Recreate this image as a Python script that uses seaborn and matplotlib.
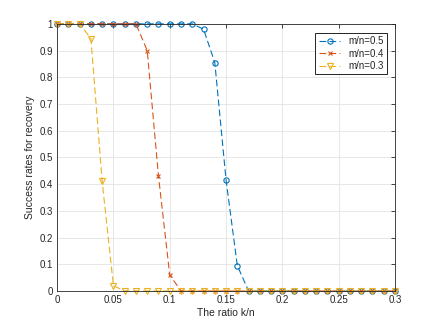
import matplotlib
matplotlib.use("Agg")
import matplotlib.pyplot as plt
import seaborn as sns
import numpy as np
import pandas as pd

# k/n ratio from 0 to 0.3
ratio = [round(0.01 * i, 2) for i in range(31)]

rate_05 = [1, 1, 1, 1, 1, 1, 1, 1, 1, 1, 1, 1, 1, 0.98, 0.855, 0.415, 0.095] + [0] * 14
rate_04 = [1, 1, 1, 1, 1, 1, 1, 1, 0.9, 0.43, 0.06] + [0] * 20
rate_03 = [1, 1, 1, 0.945, 0.41, 0.02] + [0] * 25

labels = ["m/n=0.5", "m/n=0.4", "m/n=0.3"]
colors = ["#0072BD", "#D95319", "#EDB120"]
markers = ["o", "x", "v"]
msizes = [3.8, 3.2, 3.8]

sns.set_style("white")
plt.rcParams['font.family'] = ['Liberation Sans', 'DejaVu Sans']

fig = plt.figure(figsize=(4.36, 3.27), dpi=100)
ax = fig.add_axes([0.131, 0.11, 0.775, 0.817])

for vals, lab, col, mk, ms in zip([rate_05, rate_04, rate_03], labels, colors, markers, msizes):
    df = pd.DataFrame({"ratio": ratio, "rate": vals})
    sns.lineplot(data=df, x="ratio", y="rate", ax=ax, color=col, label=lab,
                 marker=mk, markersize=ms, markerfacecolor="none",
                 markeredgecolor=col, markeredgewidth=0.8,
                 linestyle=(0, (6, 3)), linewidth=0.8, clip_on=False)

ax.set_xlim(0, 0.3)
ax.set_ylim(0, 1)
ax.set_xticks(np.arange(0, 0.31, 0.05))
ax.set_xticklabels(["0", "0.05", "0.1", "0.15", "0.2", "0.25", "0.3"])
ax.set_yticks(np.arange(0, 1.01, 0.1))
ax.set_yticklabels(["0", "0.1", "0.2", "0.3", "0.4", "0.5", "0.6", "0.7", "0.8", "0.9", "1"])
ax.grid(True, color="#e3e3e3", linewidth=0.6)
ax.set_axisbelow(True)
ax.tick_params(direction="in", length=3, width=0.6, labelsize=7, colors="#262626",
               top=True, right=True, pad=3)
for s in ax.spines.values():
    s.set_color("#262626")
    s.set_linewidth(0.6)
ax.set_xlabel("The ratio k/n", fontsize=7.5, color="#262626", labelpad=2)
ax.set_ylabel("Success rates for recovery", fontsize=7.5, color="#262626", labelpad=3)

leg = ax.legend(loc="upper right", fontsize=7, fancybox=False, framealpha=1,
                edgecolor="black", handlelength=2.2, borderpad=0.35,
                labelspacing=0.25, bbox_to_anchor=(0.99, 0.985))
leg.get_frame().set_linewidth(0.6)
leg.set_zorder(5)

fig.savefig("out.png", dpi=100)
